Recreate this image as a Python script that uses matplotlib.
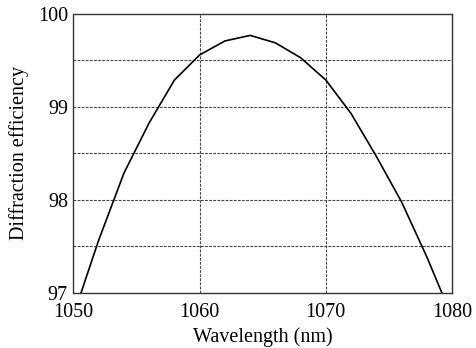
import matplotlib
matplotlib.use("Agg")
import matplotlib.pyplot as plt

# Diffraction efficiency vs wavelength
wavelength = [1050, 1052, 1054, 1056, 1058, 1060, 1062, 1064, 1066, 1068,
              1070, 1072, 1074, 1076, 1078, 1080]
efficiency = [96.76, 97.57, 98.29, 98.83, 99.29, 99.56, 99.71, 99.77, 99.69,
              99.53, 99.29, 98.93, 98.47, 97.98, 97.39, 96.74]
xticks = [1050, 1060, 1070, 1080]
yticks = [97, 98, 99, 100]
ygrid = [97.5, 98, 98.5, 99, 99.5]
xgrid = [1060, 1070]

plt.rcParams['font.family'] = ['Liberation Serif', 'DejaVu Serif']
plt.rcParams['font.size'] = 14.5

fig = plt.figure(figsize=(4.77, 3.48), dpi=100)
ax = fig.add_axes([73.5 / 477, 1 - 293 / 348, (452 - 73.5) / 477, (293 - 14) / 348])

for g in ygrid:
    ax.axhline(g, color='#444444', lw=0.8, ls=(0, (2.5, 1.2)), zorder=1)
for g in xgrid:
    ax.axvline(g, color='#444444', lw=0.8, ls=(0, (2.5, 1.2)), zorder=1)

ax.plot(wavelength, efficiency, color='black', lw=1.2, zorder=2)

ax.set_xlim(1050, 1080)
ax.set_ylim(97, 100)
ax.set_xticks(xticks)
ax.set_yticks(yticks)
ax.tick_params(axis='x', length=0, pad=7)
ax.tick_params(axis='y', length=0, pad=4)
for s in ax.spines.values():
    s.set_color('#333333')
    s.set_linewidth(1.0)

ax.set_xlabel('Wavelength (nm)', labelpad=4)
ax.set_ylabel('Diffraction efficiency', labelpad=6)

fig.savefig('out.png', dpi=100)
